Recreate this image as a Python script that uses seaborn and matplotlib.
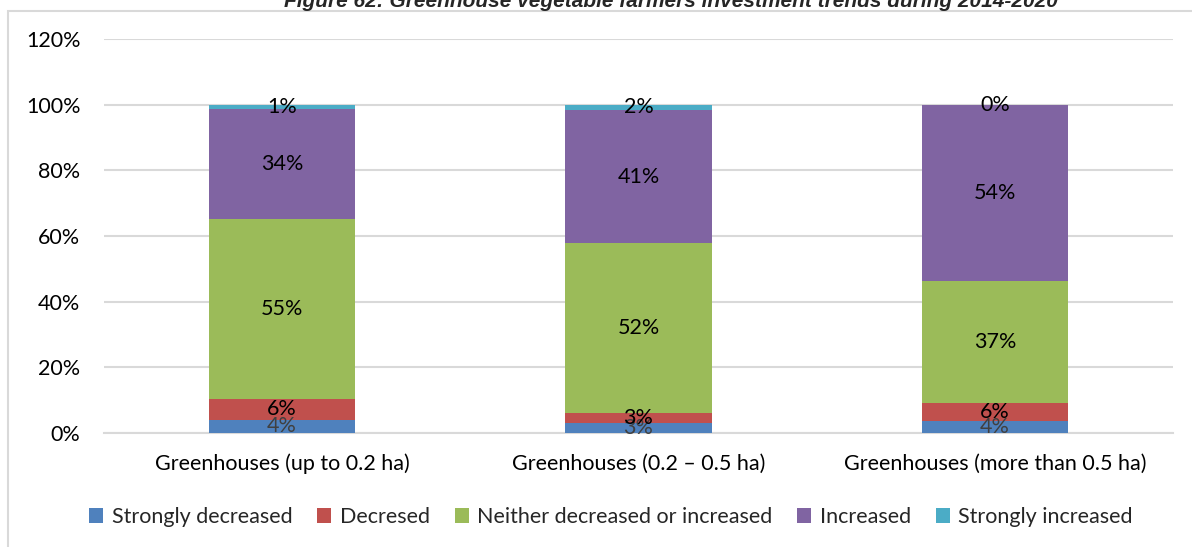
import matplotlib
matplotlib.use("Agg")
import matplotlib.pyplot as plt
from matplotlib.patches import Rectangle, Patch
import seaborn as sns
import numpy as np

# Survey shares (%) per farm size group
categories = ["Greenhouses (up to 0.2 ha)",
              "Greenhouses (0.2 \u2013 0.5 ha)",
              "Greenhouses (more than 0.5 ha)"]
strongly_decreased = [4.1, 3.1, 3.6]
decreased = [6.2, 2.9, 5.6]
neither = [54.8, 51.8, 37.0]
increased = [33.6, 40.6, 53.8]
strongly_increased = [1.3, 1.6, 0.0]

series_names = ["Strongly decreased", "Decresed", "Neither decreased or increased",
                "Increased", "Strongly increased"]
series_values = [strongly_decreased, decreased, neither, increased, strongly_increased]
series_colors = ["#4f81bd", "#c0504d", "#9bbb59", "#8064a2", "#4bacc6"]
label_colors = ["#404040", "#000000", "#000000", "#000000", "#000000"]
y_ticks = [0, 20, 40, 60, 80, 100, 120]

title = "Figure 62: Greenhouse vegetable farmers investment trends during 2014-2020"

sns.set_theme(style="white")
plt.rcParams["font.family"] = ["Lato", "DejaVu Sans"]

W, H = 1192, 547
FS = 15.5
fig = plt.figure(figsize=(W / 100, H / 100), dpi=100)
ax = fig.add_axes([104 / W, 1 - 433 / H, 1069 / W, 394 / H])

bottom = np.zeros(len(categories))
for name, vals, col, lcol in zip(series_names, series_values, series_colors, label_colors):
    vals = np.array(vals, dtype=float)
    sns.barplot(x=categories, y=vals, bottom=bottom, color=col, width=0.41,
                ax=ax, saturation=1, linewidth=0, zorder=3)
    for i, v in enumerate(vals):
        ax.text(i, bottom[i] + v / 2, f"{v:.0f}%", ha="center", va="center",
                fontsize=FS, color=lcol, zorder=5)
    bottom += vals

ax.set_xlim(-0.5, 2.5)
ax.set_ylim(0, 120)
ax.set_yticks(y_ticks)
ax.set_yticklabels([f"{t}%" for t in y_ticks])
ax.yaxis.grid(True, color="#d9d9d9", linewidth=1.5, zorder=0)
ax.set_axisbelow(True)
for s in ["top", "right", "left"]:
    ax.spines[s].set_visible(False)
ax.spines["bottom"].set_color("#d9d9d9")
ax.spines["bottom"].set_linewidth(1.5)
ax.tick_params(axis="y", length=0, pad=17, labelsize=FS, labelcolor="#000000")
ax.tick_params(axis="x", length=0, pad=15, labelsize=FS, labelcolor="#000000")
ax.set_xlabel("")
ax.set_ylabel("")

handles = [Patch(facecolor=c, edgecolor="none", label=n)
           for n, c in zip(series_names, series_colors)]
fig.legend(handles=handles, loc="center", bbox_to_anchor=(611 / W, 1 - 517 / H),
           ncol=5, frameon=False, fontsize=FS, handlelength=0.65, handleheight=0.65,
           handletextpad=0.4, columnspacing=1.15)

# chart frame
fig.add_artist(Rectangle((8 / W, -0.1), 1.2, 1 - 11 / H + 0.1, transform=fig.transFigure,
                         fill=False, edgecolor="#d9d9d9", linewidth=1.5))

fig.text(671 / W, 1 - 7 / H, title, ha="center", va="baseline",
         fontsize=15, fontweight="bold", style="italic",
         family=["Liberation Sans Narrow", "Liberation Sans", "DejaVu Sans"])

fig.savefig("out.png", dpi=100)
